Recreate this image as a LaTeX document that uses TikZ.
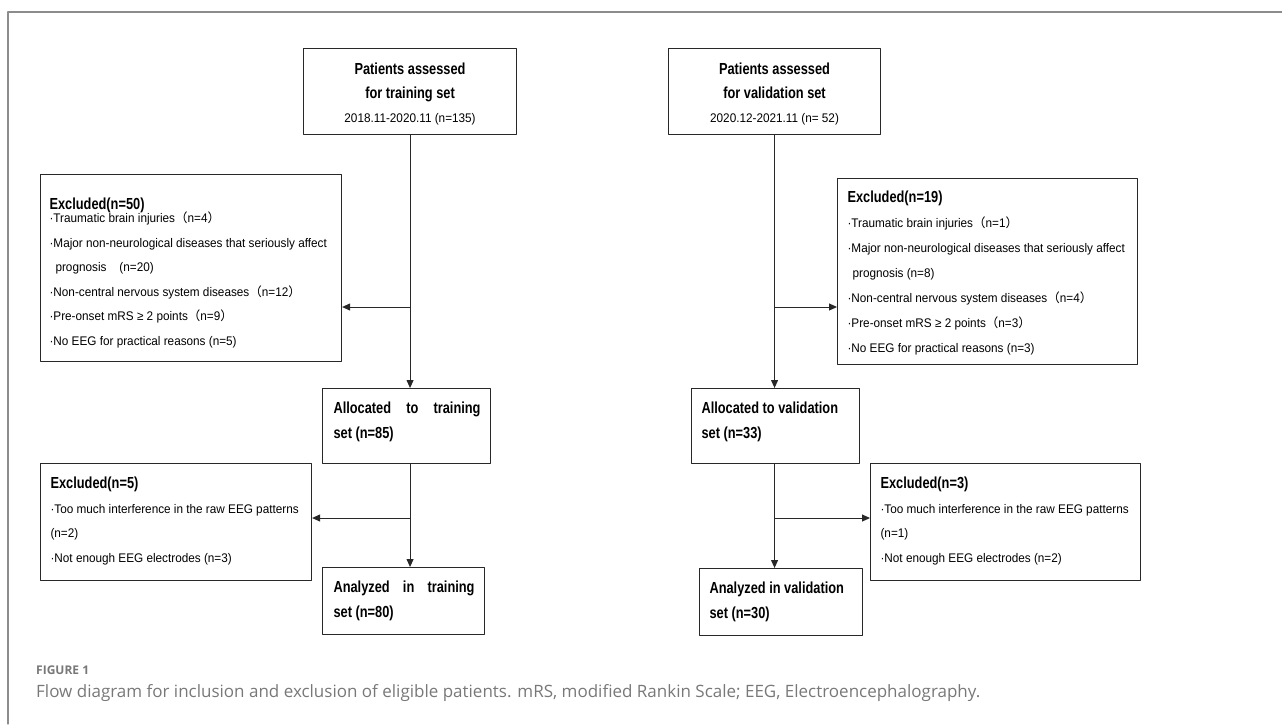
\documentclass[tikz,border=0pt]{standalone}
\usepackage{fontspec}
\setmainfont{Liberation Sans}
\newfontfamily\regfont[FakeStretch=0.94]{Liberation Sans}
\newfontfamily\headfont[FakeStretch=0.8]{Liberation Sans}
\newfontfamily\capfont{Open Sans}
\newfontfamily\cjk{Noto Sans CJK SC}
\usetikzlibrary{arrows.meta}

\definecolor{framegray}{RGB}{140,140,140}
\definecolor{capgray}{RGB}{120,120,120}
\definecolor{boxline}{RGB}{40,40,40}

\newlength\bxskip
\newcommand{\hd}{\headfont\bfseries\fontsize{16pt}{\bxskip}\selectfont}
\newcommand{\tx}{\regfont\mdseries\fontsize{12.5pt}{\bxskip}\selectfont}
\newcommand{\fp}[1]{{\cjk\mdseries\fontsize{12.5pt}{\bxskip}\selectfont #1}}
\newcommand{\flushpad}[2]{\raggedright\leftskip=#1\rightskip=#2 plus 1fil\relax}
% width, height, alignment, first baseline, line skip, text
\newcommand{\boxtext}[6]{\parbox[t][#2][t]{#1}{#3\setlength{\bxskip}{#5}\rule{0pt}{#4}#6}}

\begin{document}
\begin{tikzpicture}[x=1pt, y=-1pt, line cap=round, line join=round,
    panel/.style={draw=boxline, line width=1.1pt, inner sep=0pt, anchor=north west},
    conn/.style={draw=boxline, line width=1pt, -{Triangle[length=8pt,width=7pt]}}]
  \useasboundingbox (0,0) rectangle (1282,724);

  % --- outer frame ---
  \draw[framegray, line width=1.2pt] (8,724) -- (8,12) -- (1282,12);

  % --- training column ---
  \node[panel] (trainIn) at (303,48) {\boxtext{213pt}{86pt}{\centering}{26pt}{24pt}{%
    \hd Patients assessed\\for training set\\\tx 2018.11-2020.11 (n=135)}};
  \node[panel] (ex50) at (40,174) {\boxtext{301pt}{187pt}{\flushpad{9pt}{0pt}}{35pt}{24.5pt}{%
    \hd Excluded(n=50)\\[-11.5pt]
    \tx ·Traumatic brain injuries\fp{（}n=4\fp{）}\\
    ·Major non-neurological diseases that seriously affect\\
    \hspace*{6pt}prognosis\hspace{13pt}(n=20)\\
    ·Non-central nervous system diseases\fp{（}n=12\fp{）}\\
    ·Pre-onset mRS ≥ 2 points\fp{（}n=9\fp{）}\\
    ·No EEG for practical reasons (n=5)}};
  \node[panel] (trainAlloc) at (322,388) {\boxtext{168pt}{75pt}{\flushpad{11pt}{10pt}}{25pt}{25pt}{%
    \hd Allocated\hfill to\hfill training\\set (n=85)}};
  \node[panel] (ex5) at (40,463) {\boxtext{271pt}{117pt}{\flushpad{10pt}{0pt}}{25pt}{24.7pt}{%
    \hd Excluded(n=5)\\
    \tx ·Too much interference in the raw EEG patterns\\
    (n=2)\\
    ·Not enough EEG electrodes (n=3)}};
  \node[panel] (trainAnal) at (322,567) {\boxtext{162pt}{67pt}{\flushpad{11pt}{10pt}}{25pt}{25pt}{%
    \hd Analyzed\hfill in\hfill training\\set (n=80)}};

  % --- validation column ---
  \node[panel] (valIn) at (668,48) {\boxtext{212pt}{86pt}{\centering}{26pt}{24pt}{%
    \hd Patients assessed\\for validation set\\\tx 2020.12-2021.11 (n= 52)}};
  \node[panel] (ex19) at (837,178) {\boxtext{300pt}{186pt}{\flushpad{10pt}{0pt}}{24pt}{25pt}{%
    \hd Excluded(n=19)\\
    \tx ·Traumatic brain injuries\fp{（}n=1\fp{）}\\
    ·Major non-neurological diseases that seriously affect\\
    \hspace*{5pt}prognosis (n=8)\\
    ·Non-central nervous system diseases\fp{（}n=4\fp{）}\\
    ·Pre-onset mRS ≥ 2 points\fp{（}n=3\fp{）}\\
    ·No EEG for practical reasons (n=3)}};
  \node[panel] (valAlloc) at (691,388) {\boxtext{168pt}{75pt}{\flushpad{10pt}{0pt}}{25pt}{25pt}{%
    \hd Allocated to validation\\set (n=33)}};
  \node[panel] (ex3) at (870,463) {\boxtext{270pt}{117pt}{\flushpad{10pt}{0pt}}{25pt}{24.7pt}{%
    \hd Excluded(n=3)\\
    \tx ·Too much interference in the raw EEG patterns\\
    (n=1)\\
    ·Not enough EEG electrodes (n=2)}};
  \node[panel] (valAnal) at (699,568) {\boxtext{163pt}{67pt}{\flushpad{10pt}{0pt}}{25pt}{25pt}{%
    \hd Analyzed in validation\\set (n=30)}};

  % --- connectors ---
  \coordinate (trainTee1) at (410,307);
  \coordinate (trainTee2) at (410,518);
  \coordinate (valTee1) at (774,307);
  \coordinate (valTee2) at (774,518);
  \draw[conn] (trainIn.south) -- (trainIn.south |- trainAlloc.north);
  \draw[conn] (trainIn.south |- trainTee1) -- (trainTee1 -| ex50.east);
  \draw[conn] (trainIn.south |- trainAlloc.south) -- (trainIn.south |- trainAnal.north);
  \draw[conn] (trainIn.south |- trainTee2) -- (trainTee2 -| ex5.east);
  \draw[conn] (valIn.south) -- (valIn.south |- valAlloc.north);
  \draw[conn] (valIn.south |- valTee1) -- (valTee1 -| ex19.west);
  \draw[conn] (valIn.south |- valAlloc.south) -- (valIn.south |- valAnal.north);
  \draw[conn] (valIn.south |- valTee2) -- (valTee2 -| ex3.west);

  % --- caption ---
  \node[anchor=base west, inner sep=0pt, text=capgray, font=\capfont\bfseries\fontsize{12pt}{14pt}\selectfont]
    (figLabel) at (36,674) {FIGURE 1};
  \node[anchor=base west, inner sep=0pt, text=capgray, font=\capfont\fontsize{17pt}{20pt}\selectfont]
    (figCaption) at (36,697) {Flow diagram for inclusion and exclusion of eligible patients. mRS, modified Rankin Scale; EEG, Electroencephalography.};
\end{tikzpicture}
\end{document}
